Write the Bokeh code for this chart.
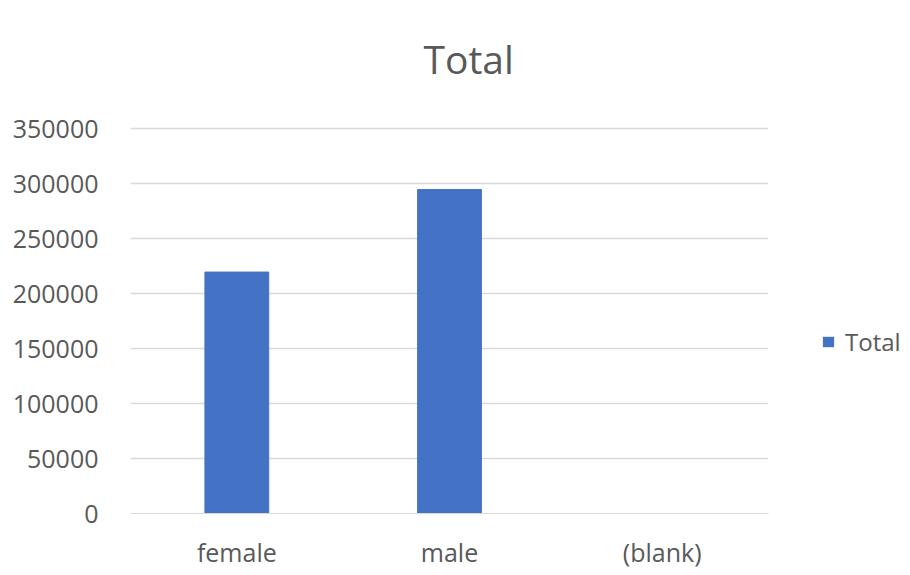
from bokeh.plotting import figure
from bokeh.layouts import row
from bokeh.models import ColumnDataSource, Label, Legend, LegendItem, FixedTicker, NumeralTickFormatter
from bokeh.embed import file_html
from bokeh.resources import INLINE

# Data
categories = ["female", "male", "(blank)"]
totals = [219500, 294500, 0]
y_ticks = [0, 50000, 100000, 150000, 200000, 250000, 300000, 350000]
series_name = "Total"

FONT = "Open Sans"
TEXT = "#595959"
BAR = "#4472C4"
GRID = "#d9d9d9"

source = ColumnDataSource(dict(cat=categories, total=totals))

# The frame reaches above the last tick so the title sits inside it
p = figure(
    x_range=categories, y_range=(0, 450000),
    width=800, height=575, output_backend="svg", toolbar_location=None,
    min_border_left=130, min_border_right=32, min_border_top=18, min_border_bottom=62,
)
p.outline_line_color = None
p.background_fill_color = "white"
p.border_fill_color = "white"

p.vbar(x="cat", top="total", width=0.30, source=source, color=BAR)

# Title
p.add_layout(Label(x=1.59, y=413500, text=series_name, text_font=FONT, text_font_size="39px",
                   text_color=TEXT, text_align="center", text_baseline="alphabetic"))

# Axes
p.yaxis.ticker = FixedTicker(ticks=y_ticks)
p.yaxis.formatter = NumeralTickFormatter(format="0")
p.yaxis.axis_line_color = None
p.yaxis.major_tick_line_color = None
p.yaxis.minor_tick_line_color = None
p.yaxis.major_label_standoff = 26
p.yaxis.major_label_text_font = FONT
p.yaxis.major_label_text_font_size = "25px"
p.yaxis.major_label_text_color = TEXT

p.xaxis.axis_line_color = GRID
p.xaxis.major_tick_line_color = None
p.xaxis.minor_tick_line_color = None
p.xaxis.major_label_standoff = 15
p.xaxis.major_label_text_font = FONT
p.xaxis.major_label_text_font_size = "25px"
p.xaxis.major_label_text_color = TEXT

p.xgrid.grid_line_color = None
p.ygrid.grid_line_color = GRID
p.ygrid.grid_line_width = 1.5

# Side panel holding the series legend; its zero-width bars only supply the swatch
q = figure(
    x_range=categories, y_range=(0, 450000), width=110, height=575,
    output_backend="svg", toolbar_location=None, min_border=0,
    x_axis_location=None, y_axis_location=None,
)
q.grid.visible = False
q.outline_line_color = None
q.border_fill_color = "white"
q.background_fill_color = "white"
swatch = q.vbar(x="cat", top="total", width=0, source=source, fill_color=BAR, line_color=None)

legend = Legend(items=[LegendItem(label=series_name, renderers=[swatch])], location=(21, 155))
legend.label_text_font = FONT
legend.label_text_font_size = "24px"
legend.label_text_color = TEXT
legend.glyph_width = 14
legend.glyph_height = 13
legend.label_height = 26
legend.label_standoff = 10
legend.padding = 0
legend.margin = 0
legend.border_line_color = None
legend.background_fill_alpha = 0
q.add_layout(legend)

open("out.html", "w").write(file_html(row(p, q), INLINE))
